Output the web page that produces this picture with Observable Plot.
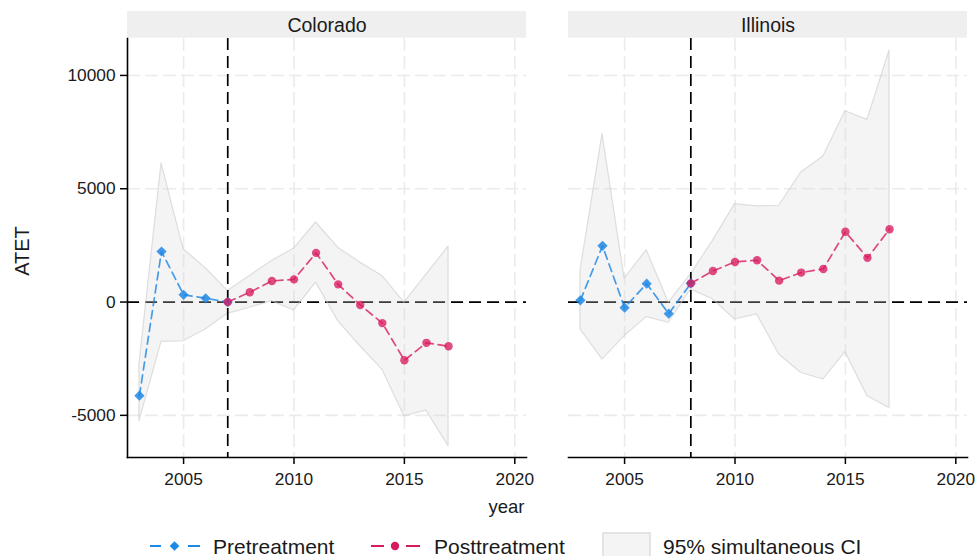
<!DOCTYPE html>
<html>
<head>
<meta charset="utf-8">
<script src="https://cdn.jsdelivr.net/npm/d3@7"></script>
<script src="https://cdn.jsdelivr.net/npm/@observablehq/plot@0.6"></script>
<style>
  html, body { margin: 0; padding: 0; background: #ffffff; }
  #chart { width: 976px; }
  svg { display: block; }
</style>
</head>
<body>
<div id="chart"></div>
<script>
// ---- data ----
const states = ["Colorado", "Illinois"];
const treatYears = [2007, 2008];
const years = [2003, 2004, 2005, 2006, 2007, 2008, 2009, 2010, 2011, 2012, 2013, 2014, 2015, 2016, 2017];
const xTicks = [2005, 2010, 2015, 2020];
const yTicks = [-5000, 0, 5000, 10000];

const coloradoATET  = [-4130, 2230, 320, 165, 0, 430, 930, 1000, 2170, 780, -130, -930, -2570, -1800, -1950];
const coloradoLower = [-5265, -1760, -1730, -1210, -520, -250, 40, -370, 855, -840, -1950, -2980, -5040, -4790, -6370];
const coloradoUpper = [-2740, 6120, 2330, 1490, 490, 1150, 1810, 2360, 3510, 2400, 1740, 1150, -30, 1210, 2450];

const illinoisATET  = [75, 2480, -250, 810, -515, 825, 1370, 1770, 1845, 945, 1300, 1460, 3100, 1950, 3215];
const illinoisLower = [-1210, -2540, -1500, -665, -915, 560, 120, -770, -545, -2315, -3130, -3420, -2210, -4160, -4680];
const illinoisUpper = [1370, 7420, 1030, 2290, -30, 1225, 2700, 4320, 4220, 4250, 5720, 6420, 8420, 8040, 11100];

const legendLabels = ["Pretreatment", "Posttreatment", "95% simultaneous CI"];

// ---- build table ----
const atets = [coloradoATET, illinoisATET];
const lows = [coloradoLower, illinoisLower];
const highs = [coloradoUpper, illinoisUpper];
const rows = [];
states.forEach((s, i) => years.forEach((yr, j) => rows.push({
  state: s, year: yr, atet: atets[i][j], lo: lows[i][j], hi: highs[i][j], treat: treatYears[i]
})));
const pre = rows.filter(d => d.year <= d.treat);
const post = rows.filter(d => d.year >= d.treat);
const treatRows = states.map((s, i) => ({state: s, year: treatYears[i]}));
const firstFacet = [{state: states[0]}];

const BLUE = "#1E88E5";
const RED = "#D81B60";
const FONT = "'Liberation Sans', Arial, Helvetica, sans-serif";
const TICK_FONT = 17.3;

const chart = Plot.plot({
  width: 976,
  height: 525,
  marginLeft: 127,
  marginRight: 9,
  marginTop: 38,
  marginBottom: 68,
  style: {fontFamily: FONT, fontSize: TICK_FONT + "px", color: "#1a1a1a", background: "#ffffff"},
  fx: {domain: states, paddingInner: 42 / 441, paddingOuter: 0, axis: null, label: null},
  x: {domain: [2002.46, 2020.53], axis: null},
  y: {domain: [-6860, 11630], axis: null},
  marks: [
    Plot.gridX(xTicks, {stroke: "#ebebeb", strokeOpacity: 1, strokeWidth: 1.6, strokeDasharray: "13,5"}),
    Plot.gridY(yTicks, {stroke: "#ebebeb", strokeOpacity: 1, strokeWidth: 1.6, strokeDasharray: "13,5"}),
    Plot.ruleY([0], {stroke: "#000000", strokeWidth: 1.7, strokeDasharray: "12,6"}),
    Plot.areaY(rows, {x: "year", y1: "lo", y2: "hi", fx: "state", z: "state",
      fill: "#d9d9d9", fillOpacity: 0.28, stroke: "#cccccc", strokeOpacity: 0.6, strokeWidth: 1.2}),
    Plot.ruleX(treatRows, {x: "year", fx: "state", stroke: "#000000", strokeWidth: 1.7, strokeDasharray: "12,6"}),
    Plot.line(pre, {x: "year", y: "atet", fx: "state", z: "state", stroke: BLUE, strokeOpacity: 0.82,
      strokeWidth: 1.7, strokeDasharray: "8,5"}),
    Plot.line(post, {x: "year", y: "atet", fx: "state", z: "state", stroke: RED, strokeOpacity: 0.8,
      strokeWidth: 1.7, strokeDasharray: "8,5"}),
    Plot.dot(pre, {x: "year", y: "atet", fx: "state", symbol: "diamond2", r: 4.6, fill: BLUE, fillOpacity: 0.85, stroke: "none"}),
    Plot.dot(post, {x: "year", y: "atet", fx: "state", symbol: "circle", r: 4.2, fill: RED, fillOpacity: 0.78, stroke: "none"}),
    Plot.frame({anchor: "bottom", stroke: "#000000", strokeWidth: 1.6}),
    Plot.frame({anchor: "left", facetAnchor: "left", stroke: "#000000", strokeWidth: 1.6}),
    Plot.axisX({ticks: xTicks, tickFormat: d => String(d), tickSize: 7, tickPadding: 8, label: null,
      fontSize: TICK_FONT, stroke: "#000000", strokeWidth: 1.5, fill: "#1a1a1a"}),
    Plot.axisY({ticks: yTicks, tickFormat: d => String(d), tickSize: 7, tickPadding: 5, label: null,
      fontSize: TICK_FONT, stroke: "#000000", strokeWidth: 1.5, fill: "#1a1a1a"}),
    Plot.text(states, {fx: d => d, text: d => d, frameAnchor: "top", lineAnchor: "middle", dy: -13,
      fontSize: 19.5, fill: "#1a1a1a"}),
    Plot.text(firstFacet, {fx: "state", text: () => "year", frameAnchor: "bottom-right", textAnchor: "end",
      lineAnchor: "middle", dx: -2, dy: 50, fontSize: 18.5, fill: "#1a1a1a"}),
    Plot.text(firstFacet, {fx: "state", text: () => "ATET", frameAnchor: "left", textAnchor: "middle",
      lineAnchor: "middle", rotate: -90, dx: -105, dy: 3, fontSize: 20, fill: "#1a1a1a"})
  ]
});

// strip backgrounds behind the facet titles
const fxScale = chart.scale("fx");
const stripLayer = d3.select(chart).insert("g", ":first-child");
states.forEach(s => {
  stripLayer.append("rect")
    .attr("x", fxScale.apply(s))
    .attr("y", 11)
    .attr("width", fxScale.bandwidth)
    .attr("height", 26.7)
    .attr("fill", "#efefef");
});

document.getElementById("chart").appendChild(chart);

// ---- legend below the plot ----
const legend = d3.select("#chart").append("svg")
  .attr("width", 976).attr("height", 31)
  .style("font-family", FONT);
const cy = 21;
const LFONT = 21;
// pretreatment
legend.append("line").attr("x1", 150).attr("x2", 161).attr("y1", cy).attr("y2", cy).attr("stroke", BLUE).attr("stroke-width", 2);
legend.append("line").attr("x1", 188).attr("x2", 200).attr("y1", cy).attr("y2", cy).attr("stroke", BLUE).attr("stroke-width", 2);
legend.append("path").attr("d", d3.symbol(d3.symbolDiamond2, 60)()).attr("transform", `translate(174.5,${cy})`).attr("fill", BLUE);
legend.append("text").attr("x", 213).attr("y", cy + 7.5).attr("font-size", LFONT).attr("fill", "#1a1a1a").text(legendLabels[0]);
// posttreatment
legend.append("line").attr("x1", 371).attr("x2", 384).attr("y1", cy).attr("y2", cy).attr("stroke", RED).attr("stroke-width", 2);
legend.append("line").attr("x1", 406).attr("x2", 420).attr("y1", cy).attr("y2", cy).attr("stroke", RED).attr("stroke-width", 2);
legend.append("circle").attr("cx", 395).attr("cy", cy).attr("r", 4.2).attr("fill", RED);
legend.append("text").attr("x", 434).attr("y", cy + 7.5).attr("font-size", LFONT).attr("fill", "#1a1a1a").text(legendLabels[1]);
// CI
legend.append("rect").attr("x", 603).attr("y", 8).attr("width", 47).attr("height", 30)
  .attr("fill", "#f4f4f4").attr("stroke", "#dddddd").attr("stroke-width", 1.5);
legend.append("text").attr("x", 663).attr("y", cy + 7.5).attr("font-size", LFONT).attr("fill", "#1a1a1a").text(legendLabels[2]);
</script>
</body>
</html>
